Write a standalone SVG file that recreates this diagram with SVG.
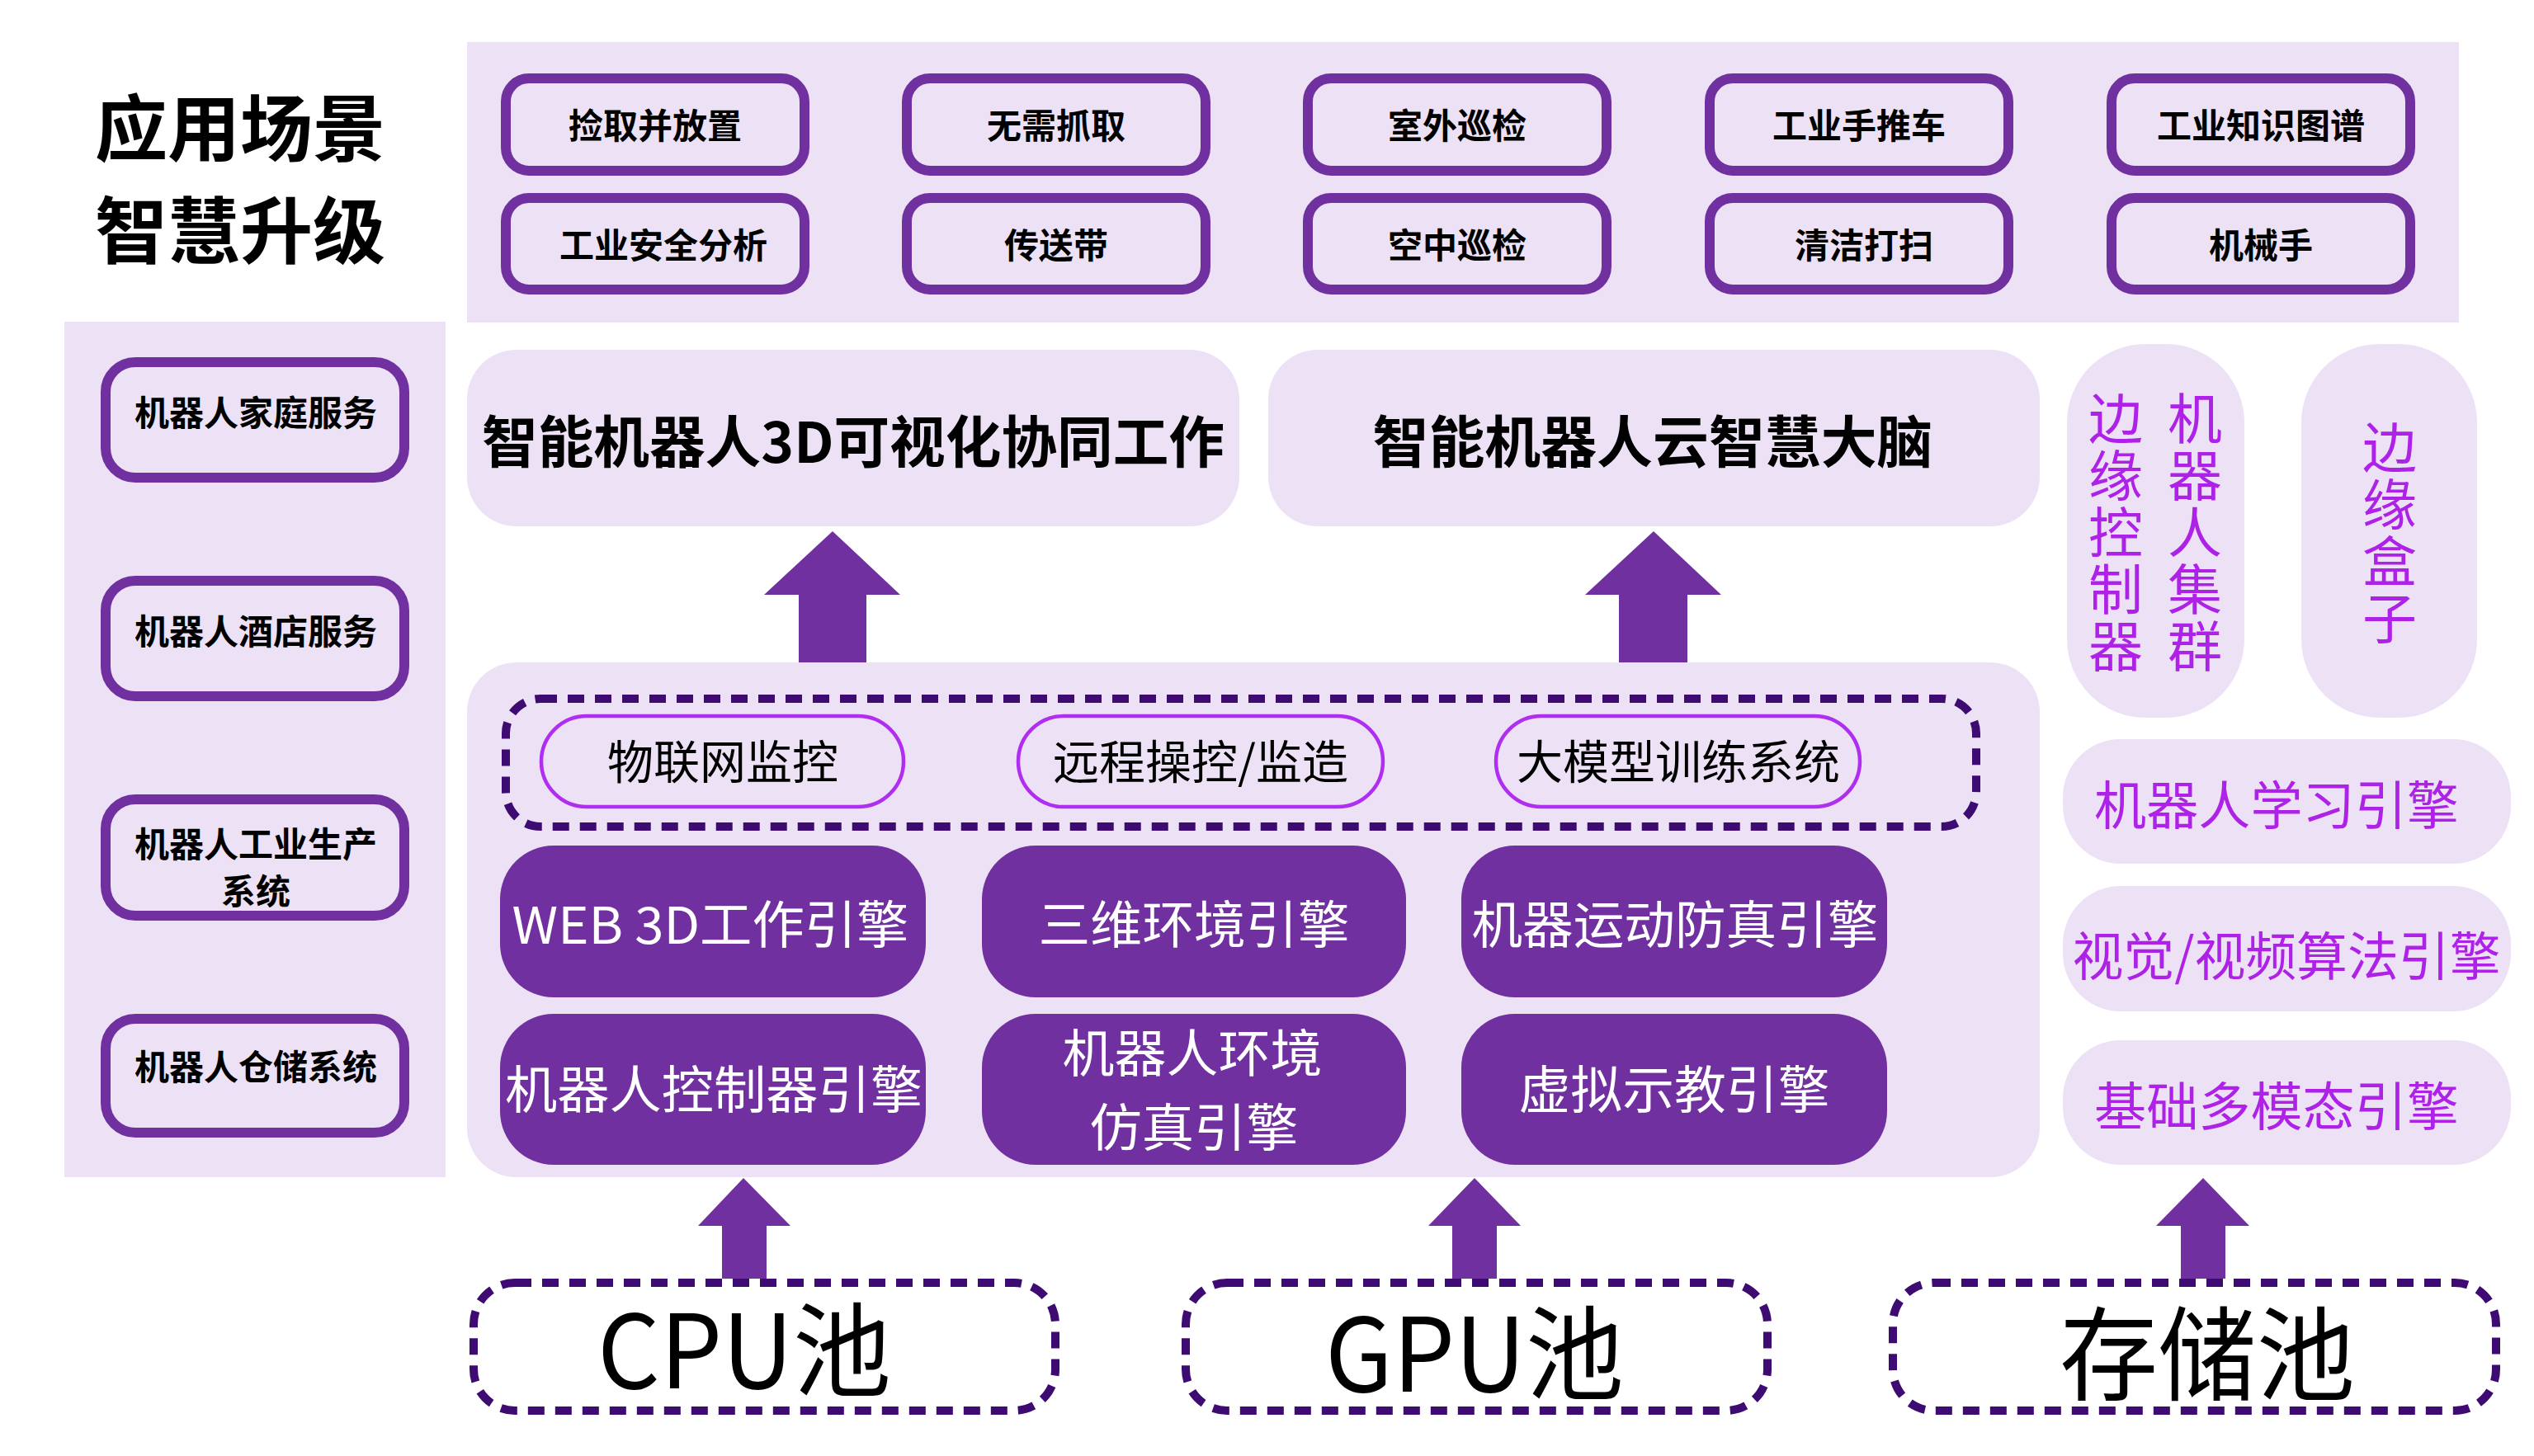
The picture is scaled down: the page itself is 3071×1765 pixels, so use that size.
<svg xmlns="http://www.w3.org/2000/svg" width="3071" height="1765" viewBox="0 0 3071 1765">
<style>
.bg{fill:#ede2f5}
.sbox{fill:#ede2f5;stroke:#7030a0;stroke-width:12}
.eng{fill:#7030a0}
.pill{fill:#ede2f5;stroke:#b02ef0;stroke-width:4.5}
.dash{fill:none;stroke:#3e0b72;stroke-width:10;stroke-dasharray:20 13}
.arrow{fill:#7030a0}
text{font-family:"Noto Sans CJK SC","Noto Sans",sans-serif;text-anchor:middle}
.b{font-weight:700;fill:#000}
.title{font-size:88px}
.s42{font-size:42px}
.card{font-size:68px}
.pt{font-size:56px;fill:#000}
.et{font-size:62px;fill:#fff}
.rt{font-size:63px;fill:#ae22e8}
.vt{font-size:66px;fill:#ae22e8;writing-mode:vertical-rl;text-anchor:start;letter-spacing:3px}
.pool{font-size:124px;fill:#000}
</style>

<g id="title">
<text class="b title" x="291" y="188">应用场景</text>
<text class="b title" x="291" y="312">智慧升级</text>
</g>

<g id="scenarios-panel">
<rect class="bg" x="566" y="51" width="2414" height="340"/>
</g>
<g id="scenario-1"><rect class="sbox" x="613" y="95" width="362" height="112" rx="28"/><text class="b s42" x="794" y="168">捡取并放置</text></g>
<g id="scenario-2"><rect class="sbox" x="1099" y="95" width="362" height="112" rx="28"/><text class="b s42" x="1280" y="168">无需抓取</text></g>
<g id="scenario-3"><rect class="sbox" x="1585" y="95" width="362" height="112" rx="28"/><text class="b s42" x="1766" y="168">室外巡检</text></g>
<g id="scenario-4"><rect class="sbox" x="2072" y="95" width="362" height="112" rx="28"/><text class="b s42" x="2253" y="168">工业手推车</text></g>
<g id="scenario-5"><rect class="sbox" x="2559" y="95" width="362" height="112" rx="28"/><text class="b s42" x="2740" y="168">工业知识图谱</text></g>
<g id="scenario-6"><rect class="sbox" x="613" y="240" width="362" height="111" rx="28"/><text class="b s42" x="804" y="313">工业安全分析</text></g>
<g id="scenario-7"><rect class="sbox" x="1099" y="240" width="362" height="111" rx="28"/><text class="b s42" x="1280" y="313">传送带</text></g>
<g id="scenario-8"><rect class="sbox" x="1585" y="240" width="362" height="111" rx="28"/><text class="b s42" x="1766" y="313">空中巡检</text></g>
<g id="scenario-9"><rect class="sbox" x="2072" y="240" width="362" height="111" rx="28"/><text class="b s42" x="2259" y="313">清洁打扫</text></g>
<g id="scenario-10"><rect class="sbox" x="2559" y="240" width="362" height="111" rx="28"/><text class="b s42" x="2740" y="313">机械手</text></g>

<g id="left-panel"><rect class="bg" x="78" y="390" width="462" height="1037"/></g>
<g id="left-1"><rect class="sbox" x="128" y="439" width="362" height="140" rx="36"/><text class="b s42" x="310" y="516">机器人家庭服务</text></g>
<g id="left-2"><rect class="sbox" x="128" y="704" width="362" height="140" rx="36"/><text class="b s42" x="310" y="781">机器人酒店服务</text></g>
<g id="left-3"><rect class="sbox" x="128" y="969" width="362" height="141" rx="36"/><text class="b s42" x="310" y="1039">机器人工业生产</text><text class="b s42" x="310" y="1096">系统</text></g>
<g id="left-4"><rect class="sbox" x="128" y="1235" width="362" height="138" rx="36"/><text class="b s42" x="310" y="1309">机器人仓储系统</text></g>

<g id="card-3d"><rect class="bg" x="566" y="424" width="936" height="214" rx="60"/><text class="b card" x="1034" y="561" textLength="900" lengthAdjust="spacingAndGlyphs">智能机器人3D可视化协同工作</text></g>
<g id="card-brain"><rect class="bg" x="1537" y="424" width="935" height="214" rx="60"/><text class="b card" x="2003" y="561" textLength="679" lengthAdjust="spacingAndGlyphs">智能机器人云智慧大脑</text></g>

<g id="edge-controller"><rect class="bg" x="2505" y="417" width="215" height="453" rx="95"/>
<text class="vt" x="2564" y="474">边缘控制器</text>
<text class="vt" x="2660" y="474">机器人集群</text>
</g>
<g id="edge-box"><rect class="bg" x="2789" y="417" width="213" height="453" rx="95"/>
<text class="vt" x="2896" y="509">边缘盒子</text>
</g>

<g id="engine-panel"><rect class="bg" x="566" y="803" width="1906" height="624" rx="60"/></g>
<g id="service-group"><rect class="dash" x="613" y="847" width="1782" height="155" rx="42"/></g>
<g id="pill-iot"><rect class="pill" x="656" y="868" width="439" height="110" rx="55"/><text class="pt" x="876" y="944">物联网监控</text></g>
<g id="pill-remote"><rect class="pill" x="1234" y="868" width="442" height="110" rx="55"/><text class="pt" x="1455" y="944">远程操控/监造</text></g>
<g id="pill-llm"><rect class="pill" x="1813" y="868" width="441" height="110" rx="55"/><text class="pt" x="2034" y="944">大模型训练系统</text></g>

<g id="eng-web3d"><rect class="eng" x="606" y="1025" width="516" height="184" rx="65"/><text class="et" x="861" y="1144" textLength="481" lengthAdjust="spacingAndGlyphs">WEB 3D工作引擎</text></g>
<g id="eng-3denv"><rect class="eng" x="1190" y="1025" width="514" height="184" rx="65"/><text class="et" x="1447" y="1144" textLength="377" lengthAdjust="spacingAndGlyphs">三维环境引擎</text></g>
<g id="eng-motion"><rect class="eng" x="1771" y="1025" width="516" height="184" rx="65"/><text class="et" x="2030" y="1144" textLength="493" lengthAdjust="spacingAndGlyphs">机器运动防真引擎</text></g>
<g id="eng-ctrl"><rect class="eng" x="606" y="1229" width="516" height="183" rx="65"/><text class="et" x="865" y="1344" textLength="506" lengthAdjust="spacingAndGlyphs">机器人控制器引擎</text></g>
<g id="eng-sim"><rect class="eng" x="1190" y="1229" width="514" height="183" rx="65"/><text class="et" x="1445" y="1300" textLength="315" lengthAdjust="spacingAndGlyphs">机器人环境</text><text class="et" x="1447" y="1390" textLength="253" lengthAdjust="spacingAndGlyphs">仿真引擎</text></g>
<g id="eng-teach"><rect class="eng" x="1771" y="1229" width="516" height="183" rx="65"/><text class="et" x="2029" y="1344" textLength="377" lengthAdjust="spacingAndGlyphs">虚拟示教引擎</text></g>

<g id="r-learn"><rect class="bg" x="2500" y="896" width="543" height="151" rx="70"/><text class="rt" x="2759" y="999" textLength="442" lengthAdjust="spacingAndGlyphs">机器人学习引擎</text></g>
<g id="r-vision"><rect class="bg" x="2500" y="1074" width="543" height="152" rx="70"/><text class="rt" x="2771" y="1182" textLength="519" lengthAdjust="spacingAndGlyphs">视觉/视频算法引擎</text></g>
<g id="r-multi"><rect class="bg" x="2500" y="1261" width="543" height="151" rx="70"/><text class="rt" x="2759" y="1364" textLength="442" lengthAdjust="spacingAndGlyphs">基础多模态引擎</text></g>

<g id="pool-cpu"><rect class="dash" x="574" y="1555" width="705" height="155" rx="50"/><text class="pool" x="902" y="1683" textLength="356" lengthAdjust="spacingAndGlyphs">CPU池</text></g>
<g id="pool-gpu"><rect class="dash" x="1437" y="1555" width="705" height="155" rx="50"/><text class="pool" x="1787" y="1687" textLength="362" lengthAdjust="spacingAndGlyphs">GPU池</text></g>
<g id="pool-storage"><rect class="dash" x="2294" y="1555" width="731" height="155" rx="50"/><text class="pool" x="2675" y="1688" textLength="358" lengthAdjust="spacingAndGlyphs">存储池</text></g>

<g id="connectors">
<polygon class="arrow" points="1009,644 1091,721 1050,721 1050,803 968,803 968,721 926,721"/>
<polygon class="arrow" points="2004,644 2086,721 2045,721 2045,803 1962,803 1962,721 1921,721"/>
<polygon class="arrow" points="901,1428 958,1486 929,1486 929,1550 875,1550 875,1486 846,1486"/>
<polygon class="arrow" points="1787,1428 1843,1486 1814,1486 1814,1550 1760,1550 1760,1486 1731,1486"/>
<polygon class="arrow" points="2670,1428 2726,1486 2697,1486 2697,1550 2643,1550 2643,1486 2613,1486"/>
</g>
</svg>
